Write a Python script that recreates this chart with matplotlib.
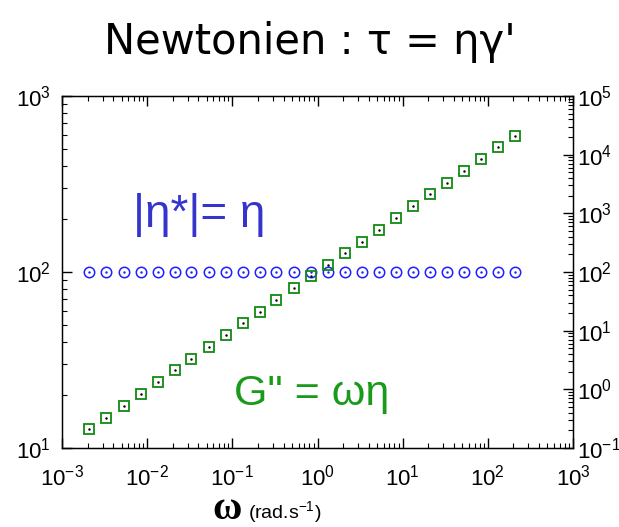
import numpy as np
import matplotlib
matplotlib.use("Agg")
import matplotlib.pyplot as plt
from matplotlib.ticker import LogLocator, NullFormatter

plt.rcParams['font.family'] = ['Liberation Sans', 'DejaVu Sans']
plt.rcParams['mathtext.fontset'] = 'custom'
plt.rcParams['mathtext.rm'] = 'Liberation Sans'
plt.rcParams['mathtext.it'] = 'Liberation Sans'

# données
omega = [0.0021, 0.0033, 0.0053, 0.0084, 0.0133, 0.021, 0.033, 0.053, 0.084, 0.133,
         0.21, 0.33, 0.53, 0.84, 1.33, 2.1, 3.3, 5.3, 8.4, 13.3,
         21, 33, 53, 84, 133, 210]
eta = [100] * 26
g2 = [0.21, 0.33, 0.53, 0.84, 1.33, 2.1, 3.3, 5.3, 8.4, 13.3,
      21, 33, 53, 84, 133, 210, 330, 530, 840, 1330,
      2100, 3300, 5300, 8400, 13300, 21000]

x_ticks = [1e-3, 1e-2, 1e-1, 1e0, 1e1, 1e2, 1e3]
left_ticks = [1e1, 1e2, 1e3]
right_ticks = [1e-1, 1e0, 1e1, 1e2, 1e3, 1e4, 1e5]

blue = '#1f1fff'
green = '#108a10'

fig = plt.figure(figsize=(6.19, 5.27), dpi=100)
ax = fig.add_axes([62/619, 1-448/527, (573-62)/619, (448-96)/527])
ax2 = ax.twinx()

ax.set_xscale('log')
ax.set_yscale('log')
ax2.set_yscale('log')
ax.set_xlim(1e-3, 1e3)
ax.set_ylim(1e1, 1e3)
ax2.set_ylim(1e-1, 1e5)

# |eta*| : cercles ouverts avec point central
ax.plot(omega, eta, 'o', ms=7.5, mfc='none', mec=blue, mew=1.1, ls='none')
ax.plot(omega, eta, '.', ms=1.5, color=blue, ls='none')
# G'' : carrés ouverts avec point central
ax2.plot(omega, g2, 's', ms=7.5, mfc='none', mec=green, mew=1.3, ls='none')
ax2.plot(omega, g2, '.', ms=1.5, color='black', ls='none')

def lab(v):
    return r'$10^{%d}$' % int(round(np.log10(v)))

ax.set_xticks(x_ticks)
ax.set_xticklabels([lab(v) for v in x_ticks])
ax.set_yticks(left_ticks)
ax.set_yticklabels([lab(v) for v in left_ticks])
ax2.set_yticks(right_ticks)
ax2.set_yticklabels([lab(v) for v in right_ticks])

for a in (ax, ax2):
    a.tick_params(which='major', direction='in', length=7, width=1, labelsize=16)
    a.tick_params(which='minor', direction='in', length=3.5, width=0.8)
ax.tick_params(axis='x', which='both', top=True, pad=12)
ax.tick_params(axis='y', which='both', left=True, right=False, pad=8)
ax2.tick_params(axis='y', which='both', right=True, pad=3)
ax.xaxis.set_minor_locator(LogLocator(base=10, subs=np.arange(2, 10), numticks=20))
ax.xaxis.set_minor_formatter(NullFormatter())
ax.yaxis.set_minor_locator(LogLocator(base=10, subs=np.arange(2, 10), numticks=20))
ax.yaxis.set_minor_formatter(NullFormatter())
ax2.yaxis.set_minor_locator(LogLocator(base=10, subs=np.arange(2, 10), numticks=20))
ax2.yaxis.set_minor_formatter(NullFormatter())

for s in ax.spines.values():
    s.set_linewidth(1.0)

fig.text(0.5, 1-42/527, "Newtonien : τ = ηγ'", ha='center', va='center',
         fontsize=30, family=['DejaVu Sans'], weight='medium')
fig.text(199/619, 1-215/527, '|η*|= η', ha='center', va='center',
         fontsize=33, color='#3535cc')
fig.text(312/619, 1-394/527, 'G" = ωη', ha='center', va='center',
         fontsize=31, color='#1a9a1a')

fig.text(242/619, 1-519/527, 'ω', ha='right', va='baseline', fontsize=29,
         family=['Liberation Serif'], weight='bold')
fig.text(248/619, 1-512/527, r'(rad.s$^{-1}$)', ha='left', va='center', fontsize=14)

fig.savefig('out.png', dpi=100)
